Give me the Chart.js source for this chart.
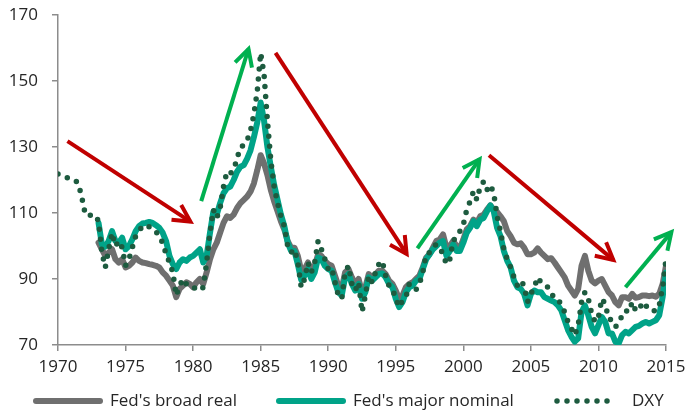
<!DOCTYPE html>
<html>
<head>
<meta charset="utf-8">
<script src="https://cdn.jsdelivr.net/npm/chart.js@4.4.1/dist/chart.umd.min.js"></script>
<style>
  html, body { margin: 0; padding: 0; background: #fff; }
</style>
</head>
<body>
<canvas id="chartCanvas" width="688" height="416"></canvas>
<script>
// quarterly readings, first value at the start year of each series
var seriesNames = ["Fed's broad real", "Fed's major nominal", "DXY"];
var stepYears = 0.25;
var broadRealStart = 1973;
var majorNominalStart = 1973;
var dxyStart = 1970;

var broadReal = [
  101.0, 99.0, 97.0, 98.0,      // 1973
  99.0, 96.0, 95.0, 96.0,
  93.5, 94.0, 95.0, 96.5,       // 1975
  95.5, 95.0, 94.8, 94.5,
  94.3, 94.0, 93.5, 92.0,
  91.0, 89.5, 88.0, 84.5,
  87.0, 88.0, 89.0, 88.5,
  87.5, 89.0, 90.0, 88.5,       // 1980
  92.0, 96.0, 99.0, 101.0,
  104.0, 107.0, 109.0, 108.5,
  109.5, 111.5, 113.0, 114.0,
  115.0, 116.5, 119.0, 123.0,
  127.5, 125.0, 121.5, 117.0,   // 1985
  113.5, 110.5, 107.5, 105.0,
  101.5, 99.5, 99.5, 97.0,
  92.5, 93.0, 95.0, 92.5,
  94.0, 97.5, 97.0, 95.5,
  94.5, 94.0, 91.0, 88.0,       // 1990
  87.0, 92.0, 93.0, 90.5,
  88.5, 90.0, 86.0, 87.5,
  91.5, 90.5, 91.5, 92.5,
  92.5, 91.5, 89.5, 88.5,
  86.5, 84.0, 85.0, 87.5,       // 1995
  88.5, 89.0, 90.0, 91.0,
  93.5, 96.5, 97.5, 99.5,
  101.5, 102.0, 103.5, 99.5,
  100.0, 101.5, 100.0, 99.5,
  102.0, 105.0, 106.0, 108.0,   // 2000
  107.0, 109.0, 109.5, 111.0,
  112.3, 111.0, 110.3, 109.0,
  107.5, 104.5, 103.0, 101.0,
  100.5, 100.8, 99.5, 97.5,
  97.5, 98.0, 99.3, 98.0,       // 2005
  97.0, 96.0, 96.3, 95.0,
  93.5, 92.0, 90.5, 88.0,
  86.5, 85.0, 87.0, 94.0,
  97.0, 92.5, 89.5, 88.7,
  89.5, 90.0, 88.0, 86.0,       // 2010
  85.0, 83.0, 82.0, 84.5,
  84.5, 84.0, 85.5, 84.3,
  84.5, 85.0, 85.0, 84.8,
  85.0, 84.6, 85.5, 88.5,
  94.0                          // 2015
];

var majorNominal = [
  107.0, 100.5, 99.8, 101.5,    // 1973
  104.5, 101.5, 101.0, 102.5,
  99.0, 100.0, 102.0, 104.5,    // 1975
  106.0, 106.8, 107.0, 107.3,
  107.0, 106.3, 105.5, 104.0,
  101.5, 97.0, 94.5, 93.0,
  95.0, 96.0, 95.5, 96.5,
  97.0, 98.0, 99.0, 95.0,       // 1980
  97.0, 104.0, 110.5, 109.5,
  113.0, 116.0, 117.5, 118.0,
  120.0, 122.5, 124.0, 124.5,
  126.5, 129.0, 133.0, 137.5,
  143.5, 138.0, 130.0, 124.0,   // 1985
  118.5, 114.0, 109.5, 106.0,
  101.0, 98.5, 98.5, 94.5,
  89.7, 91.0, 93.0, 90.0,
  92.0, 96.5, 96.0, 94.0,
  93.0, 92.5, 89.0, 86.0,       // 1990
  85.0, 90.5, 91.5, 88.5,
  86.5, 88.5, 84.0, 86.0,
  90.5, 89.5, 90.5, 91.5,
  91.7, 90.5, 88.5, 87.5,
  84.0, 81.5, 83.0, 86.0,       // 1995
  87.5, 88.0, 89.5, 90.0,
  93.0, 96.0, 97.5, 99.0,
  100.0, 101.0, 101.5, 97.0,
  98.5, 100.5, 98.5, 98.5,
  101.0, 104.0, 105.5, 107.5,   // 2000
  106.0, 108.0, 108.5, 110.5,
  112.3, 110.5, 105.5, 103.0,
  98.5, 95.5, 93.5, 89.5,
  87.5, 87.0, 85.5, 82.0,
  85.5, 86.5, 86.0, 86.0,       // 2005
  84.5, 84.0, 83.5, 83.0,
  82.0, 80.5, 77.5, 74.5,
  72.5, 71.0, 72.0, 80.0,
  82.0, 79.0, 75.5, 73.5,
  76.0, 78.5, 77.0, 73.5,       // 2010
  73.5, 71.0, 70.5, 73.0,
  74.0, 73.5, 74.5, 75.5,
  75.8, 76.5, 77.0, 76.5,
  77.0, 77.5, 79.0, 84.5,
  92.0                          // 2015
];

var dxy = [
  121.8, 121.5, 121.0, 120.6,   // 1970
  120.3, 120.0, 119.0, 115.0,
  110.0, 109.0, 109.5, 109.3,
  107.5, 98.0, 93.5, 99.0,
  104.0, 100.0, 101.5, 99.5,
  94.0, 96.0, 99.5, 103.0,      // 1975
  104.5, 106.0, 106.3, 105.8,
  105.3, 104.5, 102.5, 101.0,
  97.5, 95.0, 92.0, 85.0,
  88.0, 90.0, 88.5, 87.5,
  87.5, 87.0, 86.5, 87.5,       // 1980
  95.0, 104.0, 111.0, 108.5,
  111.5, 118.0, 122.5, 122.0,
  123.0, 126.5, 130.0, 130.5,
  132.0, 135.0, 140.0, 147.0,
  158.5, 152.0, 138.0, 126.0,   // 1985
  118.0, 113.0, 109.0, 106.0,
  100.0, 98.0, 99.0, 95.0,
  87.5, 90.0, 95.0, 92.0,
  95.0, 101.5, 99.0, 96.0,
  93.0, 93.5, 89.0, 85.0,       // 1990
  84.0, 92.0, 94.0, 88.5,
  86.5, 89.0, 80.0, 85.0,
  91.0, 89.0, 92.0, 94.5,
  95.5, 91.0, 88.0, 87.0,
  84.0, 81.5, 83.5, 84.5,       // 1995
  88.5, 88.0, 86.8, 88.5,
  92.0, 97.5, 98.0, 99.5,
  100.5, 99.5, 97.5, 94.5,
  96.0, 101.5, 103.0, 104.5,
  106.5, 111.0, 113.5, 116.5,   // 2000
  114.0, 118.0, 119.5, 117.0,
  118.5, 116.0, 109.0, 104.5,
  99.0, 96.0, 93.5, 90.5,
  88.0, 89.5, 88.0, 83.0,
  85.5, 87.5, 90.5, 89.0,       // 2005
  88.5, 87.5, 85.5, 84.5,
  84.0, 82.0, 80.0, 77.0,
  75.0, 73.0, 76.0, 83.0,
  86.0, 84.0, 79.5, 77.0,
  78.5, 84.0, 82.5, 78.0,       // 2010
  77.5, 75.5, 76.5, 79.0,
  80.5, 80.0, 83.0, 80.5,
  80.5, 83.0, 82.0, 80.5,
  80.5, 80.3, 82.0, 87.5,
  96.0                          // 2015
];

// trend arrows, in data units [year, index]
var arrows = [
  { from: [1970.7, 131.8], to: [1979.8, 107.4], color: '#C00000' },
  { from: [1980.6, 113.6], to: [1984.1, 159.7], color: '#00B050' },
  { from: [1986.1, 158.5], to: [1995.8, 97.6], color: '#C00000' },
  { from: [1996.6, 99.3], to: [2001.2, 126.3], color: '#00B050' },
  { from: [2001.9, 127.5], to: [2011.1, 95.8], color: '#C00000' },
  { from: [2012.0, 87.5], to: [2015.4, 104.2], color: '#00B050' }
];

var axisColor = '#8c8c8c';
var textColor = '#262626';
var fontFamily = "'Open Sans', 'Noto Sans', sans-serif";

function toPoints(values, firstYear) {
  var pts = [];
  for (var i = 0; i < values.length; i++) {
    pts.push({ x: firstYear + i * stepYears, y: values[i] });
  }
  return pts;
}

var arrowPlugin = {
  id: 'trendArrows',
  afterDatasetsDraw: function(chart) {
    var ctx = chart.ctx;
    var xs = chart.scales.x;
    var ys = chart.scales.y;
    ctx.save();
    arrows.forEach(function(a) {
      var x0 = xs.getPixelForValue(a.from[0]);
      var y0 = ys.getPixelForValue(a.from[1]);
      var x1 = xs.getPixelForValue(a.to[0]);
      var y1 = ys.getPixelForValue(a.to[1]);
      var ang = Math.atan2(y1 - y0, x1 - x0);
      var head = 19;
      var spread = Math.PI / 6.5;
      ctx.strokeStyle = a.color;
      ctx.lineWidth = 4;
      ctx.lineCap = 'butt';
      ctx.lineJoin = 'miter';
      ctx.beginPath();
      ctx.moveTo(x0, y0);
      ctx.lineTo(x1, y1);
      ctx.stroke();
      ctx.beginPath();
      ctx.moveTo(x1 - head * Math.cos(ang - spread), y1 - head * Math.sin(ang - spread));
      ctx.lineTo(x1, y1);
      ctx.lineTo(x1 - head * Math.cos(ang + spread), y1 - head * Math.sin(ang + spread));
      ctx.stroke();
    });
    ctx.restore();
  }
};

var legendPlugin = {
  id: 'bottomLegend',
  afterDraw: function(chart) {
    var ctx = chart.ctx;
    var y = 401;
    var starts = [36, 279, 557];
    var sampleLen = [64, 64, 58];
    var textGap = [10, 10, 17];
    ctx.save();
    ctx.font = '17px ' + fontFamily;
    ctx.textBaseline = 'middle';
    ctx.fillStyle = textColor;
    chart.data.datasets.forEach(function(ds, i) {
      var x = starts[i];
      ctx.strokeStyle = ds.borderColor;
      ctx.lineWidth = ds.borderWidth;
      ctx.lineCap = 'round';
      ctx.setLineDash(ds.borderDash || []);
      ctx.beginPath();
      ctx.moveTo(x, y);
      ctx.lineTo(x + sampleLen[i], y);
      ctx.stroke();
      ctx.setLineDash([]);
      ctx.fillText(ds.label, x + sampleLen[i] + textGap[i], y);
    });
    ctx.restore();
  }
};

var tickFont = { family: fontFamily, size: 17 };

var chartInstance = new Chart(document.getElementById('chartCanvas').getContext('2d'), {
  type: 'line',
  data: {
    datasets: [
      {
        label: seriesNames[0],
        data: toPoints(broadReal, broadRealStart),
        borderColor: '#6f6f6f',
        borderWidth: 6,
        pointRadius: 0,
        tension: 0,
        borderJoinStyle: 'round',
        borderCapStyle: 'round',
        order: 3
      },
      {
        label: seriesNames[1],
        data: toPoints(majorNominal, majorNominalStart),
        borderColor: '#00A388',
        borderWidth: 6,
        pointRadius: 0,
        tension: 0,
        borderJoinStyle: 'round',
        borderCapStyle: 'round',
        order: 2
      },
      {
        label: seriesNames[2],
        data: toPoints(dxy, dxyStart),
        borderColor: '#1D5B3F',
        borderWidth: 5.5,
        borderDash: [0, 10],
        borderCapStyle: 'round',
        pointRadius: 0,
        tension: 0,
        order: 1
      }
    ]
  },
  options: {
    responsive: false,
    animation: false,
    layout: { padding: { top: 15, right: 22, bottom: 31, left: 0 } },
    plugins: {
      legend: { display: false },
      tooltip: { enabled: false }
    },
    scales: {
      x: {
        type: 'linear',
        min: 1970,
        max: 2015,
        ticks: {
          stepSize: 5,
          padding: 6,
          color: textColor,
          font: tickFont,
          maxRotation: 0,
          callback: function(v) { return String(v); }
        },
        grid: { drawOnChartArea: false, drawTicks: true, tickLength: 6, color: axisColor, lineWidth: 1.5 },
        border: { color: axisColor, width: 1.5 },
        afterFit: function(s) {
          s.height = 40;
          s.paddingLeft = 0;
          s.paddingRight = 0;
        }
      },
      y: {
        min: 70,
        max: 170,
        ticks: {
          stepSize: 20,
          padding: 14,
          color: textColor,
          font: tickFont
        },
        grid: { drawOnChartArea: false, drawTicks: true, tickLength: 6, color: axisColor, lineWidth: 1.5 },
        border: { color: axisColor, width: 1.5 },
        afterFit: function(s) {
          s.width = 58;
          s.paddingTop = 0;
          s.paddingBottom = 0;
        }
      }
    }
  },
  plugins: [arrowPlugin, legendPlugin]
});
</script>
</body>
</html>
